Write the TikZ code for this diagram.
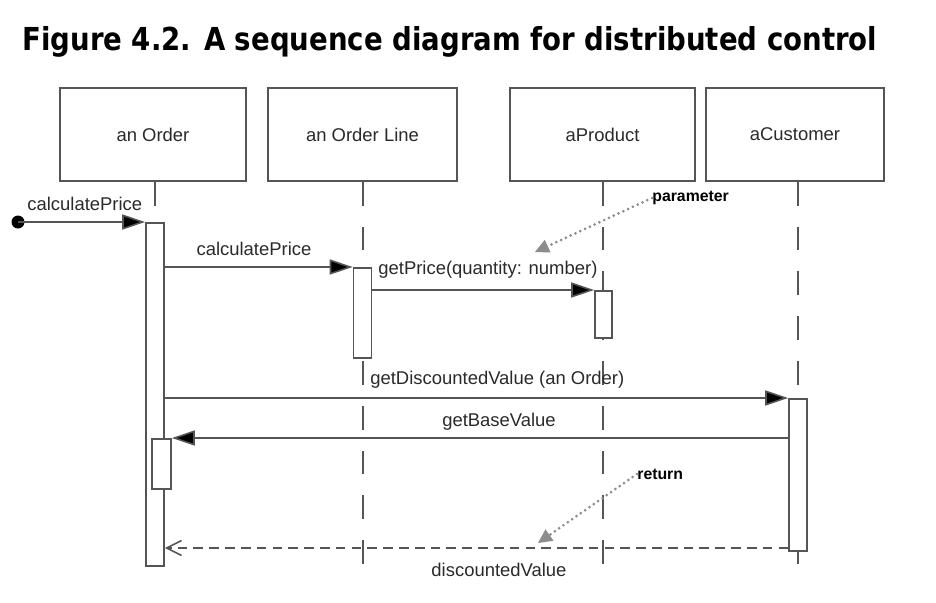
\documentclass[tikz,border=0pt]{standalone}
\usepackage{fontspec}
\setmainfont{Liberation Sans}
\newfontfamily\titlefont{DejaVu Sans}
\usetikzlibrary{arrows.meta}

\definecolor{linegray}{HTML}{555555}
\definecolor{textgray}{HTML}{2A2A2A}
\definecolor{notegray}{HTML}{8C8C8C}

\tikzset{
  head/.style={draw=linegray, line width=0.9pt, fill=white, minimum width=3.72cm,
    minimum height=1.86cm, inner sep=0pt, text=textgray, font=\fontsize{10.5}{12}\selectfont},
  act/.style={draw=linegray, line width=0.9pt, fill=white, minimum width=0.36cm, inner sep=0pt, anchor=north},
  lifeline/.style={draw=linegray, line width=0.9pt, dash pattern=on 13.5pt off 12pt},
  msg/.style={draw=linegray, line width=0.9pt, -{Triangle[length=0.46cm,width=0.3cm,fill=black]}},
  reply/.style={draw=linegray, line width=0.9pt, dash pattern=on 5.5pt off 3.5pt,
    -{Straight Barb[length=0.3cm,width=0.3cm,line width=0.9pt]}},
  lbl/.style={text=textgray, inner sep=0pt, font=\fontsize{10.5}{12}\selectfont},
  note/.style={text=black, inner sep=0pt, font=\fontsize{9}{10}\selectfont\bfseries},
  notearrow/.style={draw=notegray, line width=1.7pt, line cap=round, dash pattern=on 0pt off 3pt,
    -{Triangle[length=0.28cm,width=0.28cm,fill=notegray,line width=0pt]}}
}

\begin{document}
\begin{tikzpicture}[x=0.02cm,y=-0.02cm]
\useasboundingbox (0,0) rectangle (936,602);

\node[anchor=base west, inner sep=0pt, font=\titlefont\bfseries\fontsize{18}{22}\selectfont] (title) at (22,50)
  {\scalebox{0.872}[1]{Figure 4.2. A sequence diagram for distributed control}};

\node[head] (order) at (153,134.5) {an Order};
\node[head, minimum width=3.78cm] (oline) at (362.5,134.5) {an Order Line};
\node[head, minimum width=3.7cm] (prod) at (602.5,134.5) {aProduct};
\node[head, minimum width=3.56cm] (cust) at (795,134.5) {aCustomer};

\coordinate (orderend) at (155,565);
\coordinate (olineend) at (363,578);
\coordinate (prodend) at (603,578);
\coordinate (custend) at (798,580);

\draw[lifeline] (order.south -| orderend) -- (orderend);
\draw[lifeline] (oline.south -| olineend) -- (olineend);
\draw[lifeline] (prod.south -| prodend) -- (prodend);
\draw[lifeline] (cust.south -| custend) -- (custend);

\node[act, minimum height=6.86cm] (ordact) at (155,222) {};
\node[act, minimum width=0.38cm, minimum height=1cm] (ordsub) at (161.5,438) {};
\node[act, minimum height=1.8cm] (olact) at (362.5,267) {};
\node[act, minimum width=0.34cm, minimum height=0.94cm] (prodact) at (603.5,290) {};
\node[act, minimum height=3.04cm] (custact) at (798,398) {};

\fill[black] (18,222) circle (6.5);
\coordinate (start) at (18,222);

\draw[msg] (start) -- (ordact.north west);
\draw[msg] (ordact.east |- olact.north) -- (olact.north west);
\draw[msg] (olact.east |- prodact.north) -- (prodact.north west);
\draw[msg] (ordact.east |- custact.north) -- (custact.north west);
\draw[msg] (custact.west |- ordsub.north) -- (ordsub.north east);
\draw[reply] (custact.west |- 0,548) -- (ordact.east |- 0,548);

\node[lbl, anchor=west] (m1) at (27,204) {calculatePrice};
\node[lbl] (m2) at (254,249) {calculatePrice};
\node[lbl, anchor=west] (m3) at (378,270) {getPrice(quantity: number)};
\node[lbl, anchor=west] (m4) at (370,380) {getDiscountedValue (an Order)};
\node[lbl] (m5) at (499,422) {getBaseValue};
\node[lbl] (m6) at (499,570) {discountedValue};

\node[note, anchor=west] (param) at (652,198) {parameter};
\node[note, anchor=west] (ret) at (637,474) {return};
\coordinate (paramtip) at (535,252);
\coordinate (rettip) at (538,543);
\draw[notearrow] (param.west) -- (paramtip);
\draw[notearrow] (ret.west) -- (rettip);
\end{tikzpicture}
\end{document}
